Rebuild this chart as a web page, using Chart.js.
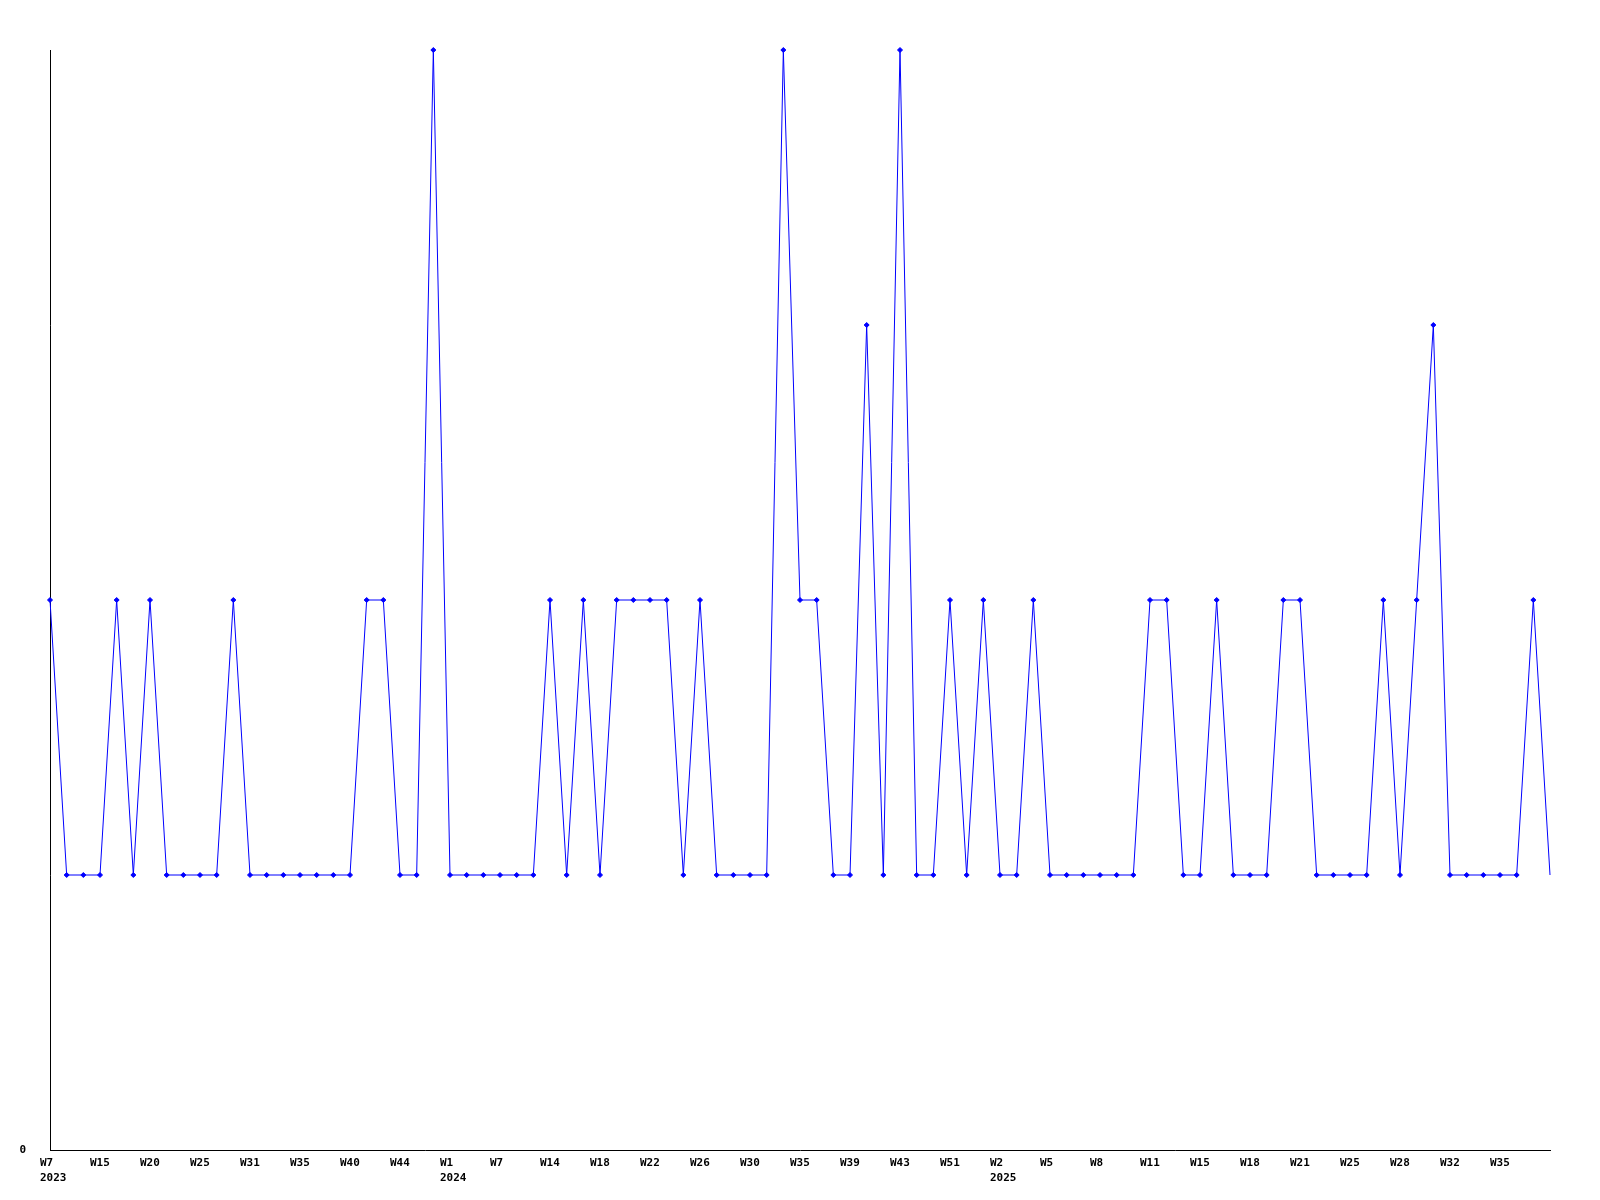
<!DOCTYPE html>
<html>
<head>
<meta charset="utf-8">
<script src="https://cdn.jsdelivr.net/npm/chart.js@4/dist/chart.umd.min.js"></script>
<style>
  html, body { margin: 0; padding: 0; background: #fff; }
  #wrap { width: 1600px; height: 1200px; }
</style>
</head>
<body>
<div id="wrap"><canvas id="grafica"></canvas></div>
<script>
// Semanas (solo se muestra una de cada tres)
const semanas = [
  'W7','W10','W12','W15','W17','W18','W20','W22','W23','W25','W27','W29','W31','W32','W34','W35',
  'W37','W38','W40','W41','W43','W44','W46','W49',
  'W1','W3','W5','W7','W10','W12','W14','W15','W17','W18','W19','W20','W22','W23','W24','W26',
  'W27','W28','W30','W32','W33','W35','W36','W37','W39','W40','W42','W43','W45','W48','W51','W52',
  'W1','W2','W3','W4','W5','W6','W7','W8','W9','W10','W11','W12','W14','W15','W16','W17','W18',
  'W19','W20','W21','W22','W24','W25','W26','W27','W28','W30','W31','W32','W33','W34','W35',
  'W36','W37','W38'
];
// Año mostrado bajo la etiqueta
const anios = ['2023', '2024', '2025'];
const inicioAnio = [0, 24, 57];

const valores = [
  2,1,1,1,2,1,2,1,1,1,1,2,1,1,1,1,1,1,1,2,2,1,1,4,
  1,1,1,1,1,1,2,1,2,1,2,2,2,2,1,2,1,1,1,1,4,2,2,1,1,3,1,4,1,1,2,1,
  2,1,1,2,1,1,1,1,1,1,2,2,1,1,2,1,1,1,2,2,1,1,1,1,2,1,2,3,1,1,1,1,1,2,1
];

const fuente = { family: '"DejaVu Sans Mono", monospace', size: 11, weight: 'bold', lineHeight: 1.4 };

new Chart(document.getElementById('grafica').getContext('2d'), {
  type: 'line',
  data: {
    labels: semanas,
    datasets: [{
      data: valores,
      borderColor: '#0000ff',
      backgroundColor: '#0000ff',
      borderWidth: 1,
      pointStyle: 'rectRot',
      pointRadius: valores.map((v, i) => i === valores.length - 1 ? 0 : 2.5),
      pointBorderWidth: 1,
      tension: 0,
      clip: false
    }]
  },
  options: {
    responsive: true,
    maintainAspectRatio: false,
    animation: false,
    layout: { padding: { top: 50, right: 50, left: 0, bottom: 0 } },
    plugins: { legend: { display: false }, tooltip: { enabled: false } },
    scales: {
      x: {
        type: 'category',
        offset: false,
        grid: { display: false, drawTicks: false },
        border: { display: true, color: '#000', width: 1 },
        afterFit: s => { s.height = 50; },
        ticks: {
          autoSkip: false,
          maxRotation: 0,
          minRotation: 0,
          align: 'start',
          labelOffset: -10,
          padding: 5,
          color: '#000',
          font: fuente,
          callback: function(v, i) {
            if (i % 3 !== 0 || i >= 90) return '';
            const k = inicioAnio.indexOf(i);
            return k >= 0 ? [semanas[i], anios[k]] : semanas[i];
          }
        }
      },
      y: {
        min: 0,
        max: 4,
        grid: { display: false, drawTicks: false },
        border: { display: true, color: '#000', width: 1 },
        afterFit: s => { s.width = 50; },
        ticks: {
          stepSize: 1,
          padding: 24,
          color: '#000',
          font: fuente,
          callback: v => v === 0 ? '0' : ''
        }
      }
    }
  }
});
</script>
</body>
</html>
